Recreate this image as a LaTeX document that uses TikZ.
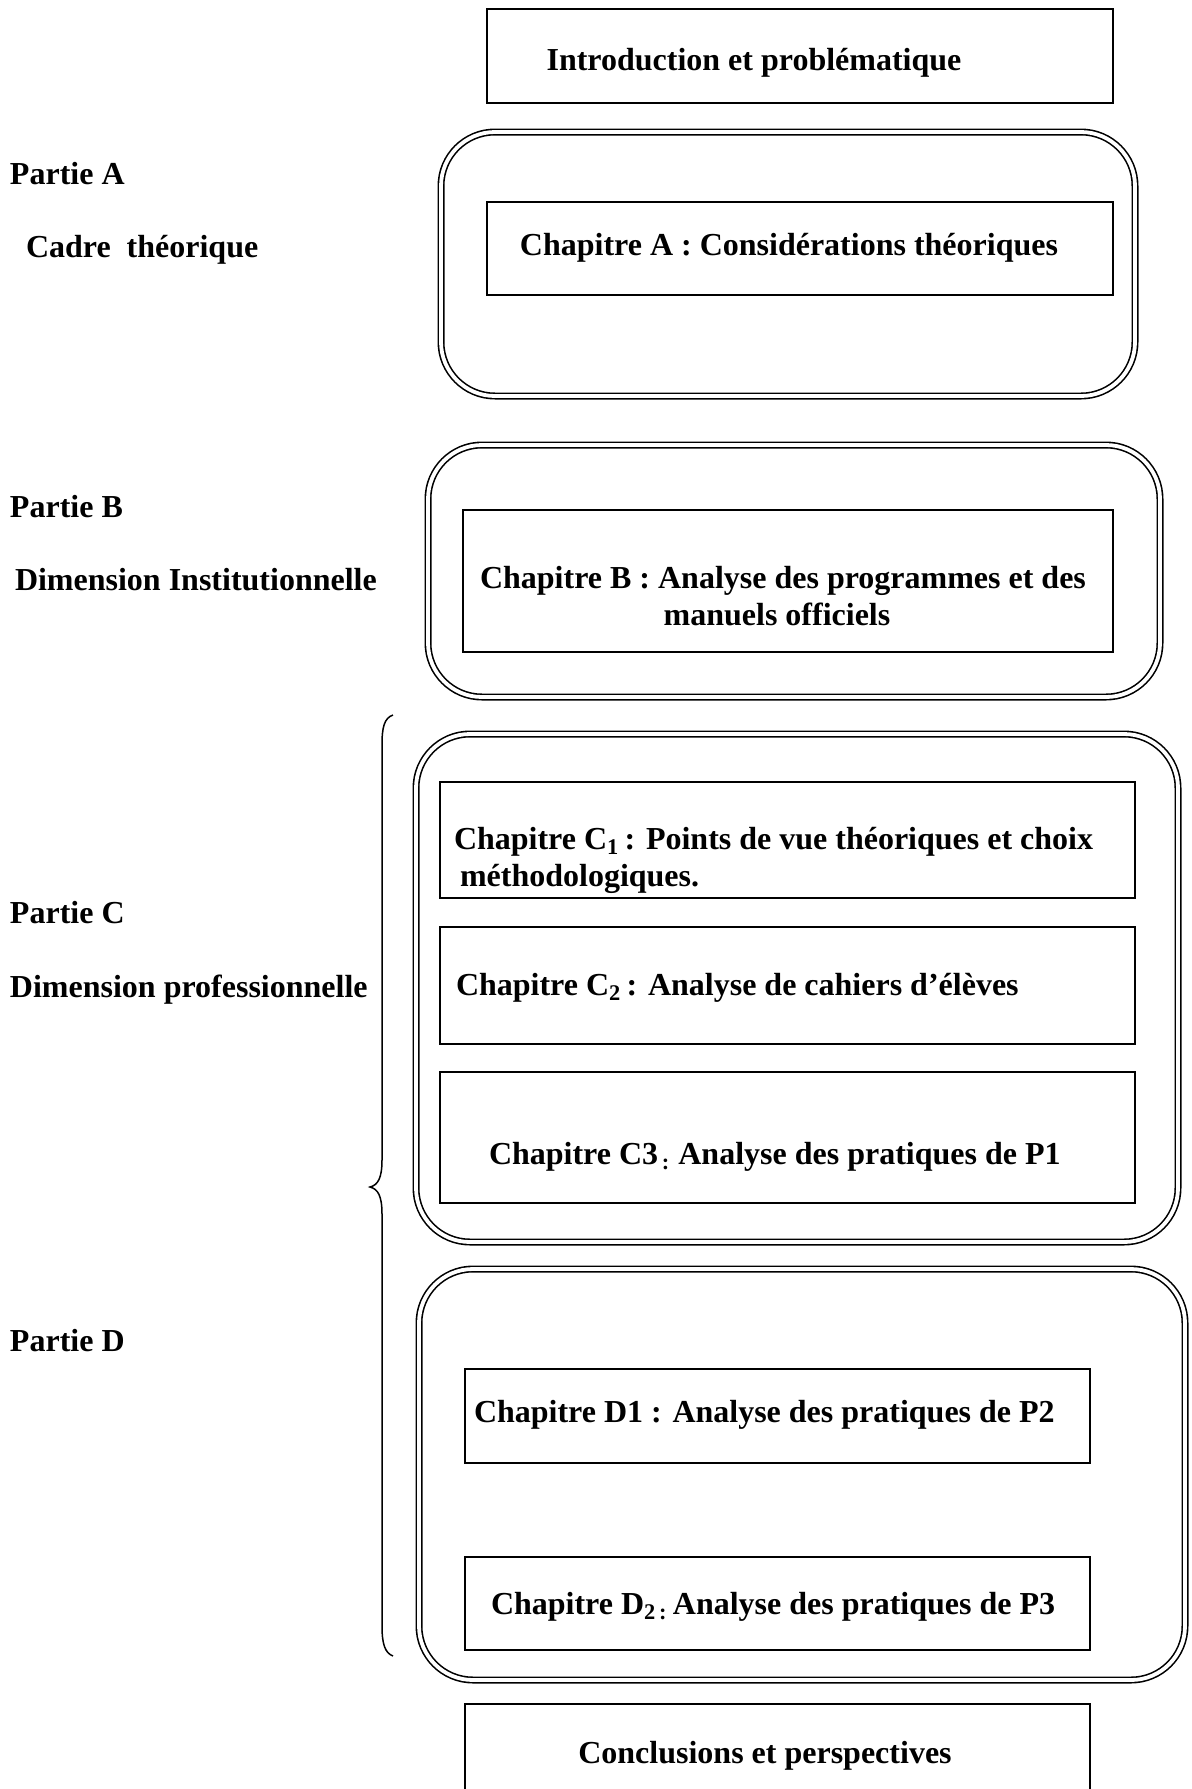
\documentclass[tikz,border=0pt]{standalone}
\usepackage{fontspec}
\setmainfont{Liberation Serif}
\begin{document}
\begin{tikzpicture}[x=0.5pt,y=-0.5pt,
  every node/.style={font=\bfseries\fontsize{16}{19}\selectfont, inner sep=0pt, outer sep=0pt},
  chbox/.style={draw, line width=1.3pt, rectangle},
  partbox/.style={draw, rectangle, rounded corners=27pt, line width=0.8pt, double, double distance=1.9pt},
  lbl/.style={anchor=base west},
  ctr/.style={anchor=base}
]
\useasboundingbox (0,0) rectangle (1191,1789);
\clip (0,0) rectangle (1191,1789);
\newcommand{\boxnode}[6]{%
  \node[#6, minimum width={(#4-#2)*0.5pt}, minimum height={(#5-#3)*0.5pt}] (#1) at ({(#2+#4)/2},{(#3+#5)/2}) {};}

% outer rounded double boxes
\boxnode{pA}{441}{132}{1135}{396}{partbox}
\boxnode{pB}{428}{445}{1160}{697}{partbox}
\boxnode{pC}{416}{734}{1178}{1242}{partbox}
\boxnode{pD}{419}{1269}{1185}{1680}{partbox}

% inner boxes
\boxnode{intro}{487}{9}{1113}{103}{chbox}
\boxnode{chA}{487}{202}{1113}{295}{chbox}
\boxnode{chB}{463}{510}{1113}{652}{chbox}
\boxnode{chCa}{440}{782}{1135}{898}{chbox}
\boxnode{chCb}{440}{927}{1135}{1044}{chbox}
\boxnode{chCc}{440}{1072}{1135}{1203}{chbox}
\boxnode{chDa}{465}{1369}{1090}{1463}{chbox}
\boxnode{chDb}{465}{1557}{1090}{1650}{chbox}
\boxnode{concl}{465}{1704}{1090}{1820}{chbox}

% texts in boxes
\node[ctr] (tIntro) at (754,70) {Introduction et problématique};
\node[ctr] (tA) at (789,255) {Chapitre A : Considérations théoriques};
\node[ctr] (tBa) at (783,588) {Chapitre B : Analyse des programmes et des};
\node[ctr] (tBb) at (777,625) {manuels officiels};
\node[lbl] (tCa1) at (454,849) {Chapitre C\textsubscript{1}\,: Points de vue théoriques et choix};
\node[lbl] (tCa2) at (460,886) {méthodologiques.};
\node[lbl] (tCb) at (456,995) {Chapitre C\textsubscript{2}\,: Analyse de cahiers d’élèves};
\node[lbl] (tCc) at (489,1164) {Chapitre C3\textsubscript{\,:} Analyse des pratiques de P1};
\node[lbl] (tDa) at (474,1422) {Chapitre D1 : Analyse des pratiques de P2};
\node[lbl] (tDb) at (491,1614) {Chapitre D\textsubscript{2\,:}\,Analyse des pratiques de P3};
\node[ctr] (tConcl) at (765,1763) {Conclusions et perspectives};

% left labels
\node[lbl] (lA) at (10,184) {Partie A};
\node[lbl] (lA2) at (26,257) {Cadre\ \ théorique};
\node[lbl] (lB) at (10,517) {Partie B};
\node[lbl] (lB2) at (15,590) {Dimension Institutionnelle};
\node[lbl] (lC) at (10,923) {Partie C};
\node[lbl] (lC2) at (10,997) {Dimension professionnelle};
\node[lbl] (lD) at (10,1351) {Partie D};

% brace
\coordinate (bt) at (393,715);
\coordinate (btip) at (370,1187);
\coordinate (bb) at (393,1656);
\draw[line width=0.75pt] (bt) .. controls (384,718) and (382,728) .. (382,745)
  -- (382,1160) .. controls (382,1178) and (378,1185) .. (btip)
  .. controls (378,1189) and (382,1196) .. (382,1214)
  -- (382,1626) .. controls (382,1644) and (385,1653) .. (bb);
\end{tikzpicture}
\end{document}
